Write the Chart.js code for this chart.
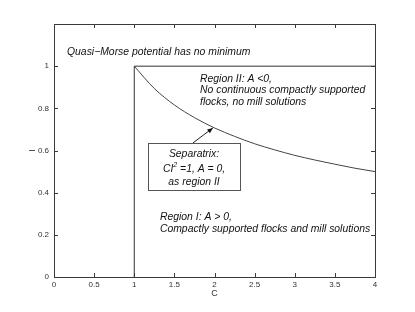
<!DOCTYPE html>
<html>
<head>
<meta charset="utf-8">
<script src="https://cdn.jsdelivr.net/npm/chart.js@4/dist/chart.umd.min.js"></script>
<style>
html,body{margin:0;padding:0;background:#fff;}
#c{display:block;}
</style>
</head>
<body>
<canvas id="c" width="415" height="312"></canvas>
<script>
// ---- data ----
const xTicks = [0, 0.5, 1, 1.5, 2, 2.5, 3, 3.5, 4];
const yTicks = [0, 0.2, 0.4, 0.6, 0.8, 1];
const boundaryC = [1, 1, 4];
const boundaryI = [0, 1, 1];
const separatrixC = [1, 1.25, 1.5, 1.75, 2, 2.25, 2.5, 2.75, 3, 3.25, 3.5, 3.75, 4];
const separatrixI = [1, 0.894, 0.816, 0.756, 0.707, 0.667, 0.632, 0.603, 0.577, 0.555, 0.535, 0.516, 0.5];
const xLabel = 'C';
const yLabel = 'I';

const FONT = '"Liberation Sans", Arial, Helvetica, sans-serif';
const AX = '#3a3a3a';
const TF = 'italic 10.4px ' + FONT;

function pts(xs, ys){ return xs.map((x,i)=>({x:x, y:ys[i]})); }
function fmt(v){ return String(Math.round(v*10)/10); }

const framePlugin = {
  id: 'frame',
  afterDraw(chart){
    const ctx = chart.ctx, a = chart.chartArea;
    const xs = chart.scales.x, ys = chart.scales.y;
    ctx.save();
    ctx.strokeStyle = AX;
    ctx.lineWidth = 1;
    ctx.strokeRect(Math.round(a.left)+0.5, Math.round(a.top)+0.5, Math.round(a.right-a.left), Math.round(a.bottom-a.top));
    const L = 4;
    ctx.beginPath();
    xTicks.forEach(v=>{
      const p = Math.round(xs.getPixelForValue(v))+0.5;
      ctx.moveTo(p, a.bottom); ctx.lineTo(p, a.bottom-L);
      ctx.moveTo(p, a.top); ctx.lineTo(p, a.top+L);
    });
    yTicks.concat([1.2]).forEach(v=>{
      const p = Math.round(ys.getPixelForValue(v))+0.5;
      ctx.moveTo(a.left, p); ctx.lineTo(a.left+L, p);
      ctx.moveTo(a.right, p); ctx.lineTo(a.right-L, p);
    });
    ctx.stroke();

    // annotations (anchored in data coordinates)
    const X = v=>xs.getPixelForValue(v), Y = v=>ys.getPixelForValue(v);
    ctx.fillStyle = '#111';
    ctx.font = TF;
    ctx.textBaseline = 'middle';
    ctx.textAlign = 'left';
    ctx.fillText('Quasi\u2212Morse potential has no minimum', X(0.162), Y(1.067));
    ctx.fillText('Region II: A <0,', X(1.82), Y(0.939));
    ctx.fillText('No continuous compactly supported', X(1.82), Y(0.885));
    ctx.fillText('flocks, no mill solutions', X(1.82), Y(0.831));
    ctx.fillText('Region I: A > 0,', X(1.32), Y(0.285));
    ctx.fillText('Compactly supported flocks and mill solutions', X(1.32), Y(0.225));

    // separatrix box
    const bl = Math.round(X(1.171))+0.5, br = Math.round(X(2.318))+0.5;
    const bt = Math.round(Y(0.636))+0.5, bb = Math.round(Y(0.413))+0.5;
    ctx.fillStyle = '#fff';
    ctx.fillRect(bl, bt, br-bl, bb-bt);
    ctx.strokeStyle = '#555';
    ctx.strokeRect(bl, bt, br-bl, bb-bt);
    ctx.fillStyle = '#111';
    const cx = X(1.745);
    ctx.textAlign = 'center';
    ctx.fillText('Separatrix:', cx, Y(0.585));
    ctx.fillText('as region II', cx, Y(0.45));
    // CI^2 =1, A = 0,
    const y2 = Y(0.512);
    const p1 = 'CI', p3 = ' =1, A = 0,';
    const w1 = ctx.measureText(p1).width, w3 = ctx.measureText(p3).width;
    ctx.font = 'italic 7px ' + FONT;
    const w2 = ctx.measureText('2').width;
    const start = cx - (w1+w2+w3)/2;
    ctx.textAlign = 'left';
    ctx.fillText('2', start+w1, y2-4);
    ctx.font = TF;
    ctx.fillText(p1, start, y2);
    ctx.fillText(p3, start+w1+w2, y2);

    // arrow
    const ax0 = X(1.732), ay0 = Y(0.636), ax1 = X(1.98), ay1 = Y(0.707);
    ctx.strokeStyle = '#222';
    ctx.beginPath(); ctx.moveTo(ax0, ay0); ctx.lineTo(ax1, ay1); ctx.stroke();
    const ang = Math.atan2(ay1-ay0, ax1-ax0), h = 6, s = 0.4;
    ctx.fillStyle = '#111';
    ctx.beginPath();
    ctx.moveTo(ax1, ay1);
    ctx.lineTo(ax1 - h*Math.cos(ang-s), ay1 - h*Math.sin(ang-s));
    ctx.lineTo(ax1 - h*Math.cos(ang+s), ay1 - h*Math.sin(ang+s));
    ctx.closePath(); ctx.fill();
    ctx.restore();
  }
};

new Chart(document.getElementById('c'), {
  type: 'scatter',
  data: {
    datasets: [
      { data: pts(boundaryC, boundaryI), showLine: true, borderColor: '#333', borderWidth: 1, pointRadius: 0, tension: 0 },
      { data: pts(separatrixC, separatrixI), showLine: true, borderColor: '#444', borderWidth: 1, pointRadius: 0, cubicInterpolationMode: 'monotone' }
    ]
  },
  options: {
    responsive: false,
    animation: false,
    layout: { padding: { left: 0, right: 40, top: 24, bottom: 0 } },
    plugins: { legend: { display: false }, tooltip: { enabled: false } },
    scales: {
      x: {
        type: 'linear', min: 0, max: 4,
        afterBuildTicks: s => { s.ticks = xTicks.map(v=>({value:v})); },
        afterFit: s => { s.height = 35; },
        grid: { display: false, drawTicks: false },
        border: { display: false },
        ticks: { padding: 3, color: '#333', font: { family: FONT, size: 8 }, maxRotation: 0, autoSkip: false, callback: fmt },
        title: { display: true, text: xLabel, color: '#333', font: { family: FONT, size: 9 }, padding: { top: 0, bottom: 13 } }
      },
      y: {
        type: 'linear', min: 0, max: 1.2,
        afterBuildTicks: s => { s.ticks = yTicks.map(v=>({value:v})); },
        afterFit: s => { s.width = 54; },
        grid: { display: false, drawTicks: false },
        border: { display: false },
        ticks: { padding: 5, color: '#333', font: { family: FONT, size: 8 }, autoSkip: false, callback: fmt },
        title: { display: true, text: yLabel, color: '#333', font: { family: FONT, size: 9 }, padding: { top: 27, bottom: 0 } }
      }
    }
  },
  plugins: [framePlugin]
});
</script>
</body>
</html>
